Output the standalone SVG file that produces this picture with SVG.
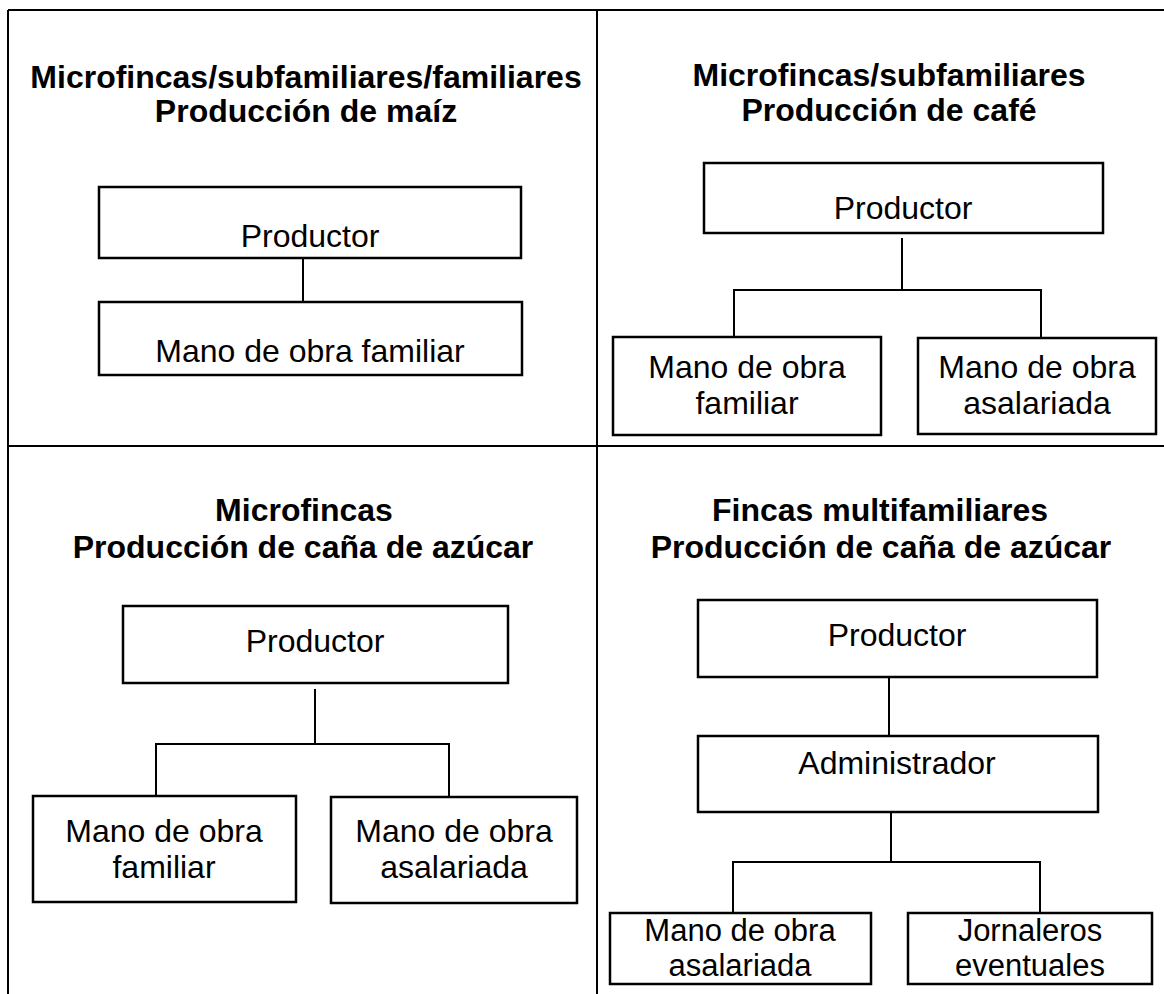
<svg xmlns="http://www.w3.org/2000/svg" width="1164" height="994" viewBox="0 0 1164 994">
<style>
.frame{stroke:#000;stroke-width:2;fill:none}
.box{stroke:#000;stroke-width:2.5;fill:#fff}
.con{stroke:#000;stroke-width:2;fill:none}
.t{font-family:"Liberation Sans",Arial,sans-serif;font-weight:bold;font-size:32px;text-anchor:middle;fill:#000}
.b{font-family:"Liberation Sans",Arial,sans-serif;font-size:32px;text-anchor:middle;fill:#000}
.s{font-size:31px}
</style>
<rect width="1164" height="994" fill="#fff"/>
<g id="frame">
<line class="frame" x1="8" y1="10" x2="1164" y2="10"/>
<line class="frame" x1="8" y1="446" x2="1164" y2="446"/>
<line class="frame" x1="8" y1="10" x2="8" y2="994"/>
<line class="frame" x1="597" y1="10" x2="597" y2="994"/>
</g>
<g id="titles">
<text class="t" x="306" y="88">Microfincas/subfamiliares/familiares</text>
<text class="t" x="306" y="122">Producción de maíz</text>
<text class="t" x="889" y="86">Microfincas/subfamiliares</text>
<text class="t" x="889" y="121">Producción de café</text>
<text class="t" x="304" y="521">Microfincas</text>
<text class="t" x="303" y="558">Producción de caña de azúcar</text>
<text class="t" x="880" y="521">Fincas multifamiliares</text>
<text class="t" x="881" y="558">Producción de caña de azúcar</text>
</g>
<g id="connectors">
<line class="con" x1="303" y1="258" x2="303" y2="302"/>
<line class="con" x1="902" y1="238" x2="902" y2="290"/>
<polyline class="con" points="734,338 734,290 1041,290 1041,338"/>
<line class="con" x1="315" y1="689" x2="315" y2="744"/>
<polyline class="con" points="156,796 156,744 449,744 449,797"/>
<line class="con" x1="889" y1="677" x2="889" y2="736"/>
<line class="con" x1="891" y1="812" x2="891" y2="862"/>
<polyline class="con" points="733,913 733,862 1040,862 1040,913"/>
</g>
<g id="tl-productor">
<rect class="box" x="99" y="187" width="422" height="71"/>
<text class="b" x="310" y="247">Productor</text>
</g>
<g id="tl-familiar">
<rect class="box" x="99" y="302" width="423" height="73"/>
<text class="b" x="310" y="362">Mano de obra familiar</text>
</g>
<g id="tr-productor">
<rect class="box" x="704" y="163" width="399" height="70"/>
<text class="b" x="903" y="219">Productor</text>
</g>
<g id="tr-familiar">
<rect class="box" x="613" y="337" width="268" height="98"/>
<text class="b" x="747" y="378">Mano de obra</text>
<text class="b" x="747" y="414">familiar</text>
</g>
<g id="tr-asalariada">
<rect class="box" x="918" y="338" width="238" height="96"/>
<text class="b" x="1037" y="378">Mano de obra</text>
<text class="b" x="1037" y="414">asalariada</text>
</g>
<g id="bl-productor">
<rect class="box" x="123" y="606" width="385" height="77"/>
<text class="b" x="315" y="652">Productor</text>
</g>
<g id="bl-familiar">
<rect class="box" x="33" y="796" width="263" height="106"/>
<text class="b" x="164" y="842">Mano de obra</text>
<text class="b" x="164" y="878">familiar</text>
</g>
<g id="bl-asalariada">
<rect class="box" x="331" y="797" width="246" height="106"/>
<text class="b" x="454" y="842">Mano de obra</text>
<text class="b" x="454" y="878">asalariada</text>
</g>
<g id="br-productor">
<rect class="box" x="698" y="600" width="399" height="77"/>
<text class="b" x="897" y="646">Productor</text>
</g>
<g id="br-administrador">
<rect class="box" x="698" y="736" width="400" height="76"/>
<text class="b" x="897" y="774">Administrador</text>
</g>
<g id="br-asalariada">
<rect class="box" x="610" y="913" width="261" height="71"/>
<text class="b s" x="740" y="941">Mano de obra</text>
<text class="b s" x="740" y="976">asalariada</text>
</g>
<g id="br-jornaleros">
<rect class="box" x="908" y="913" width="244" height="71"/>
<text class="b s" x="1030" y="941">Jornaleros</text>
<text class="b s" x="1030" y="976">eventuales</text>
</g>
</svg>
